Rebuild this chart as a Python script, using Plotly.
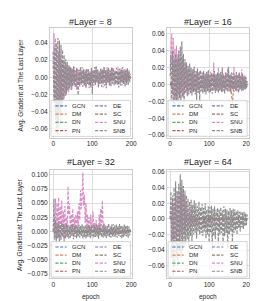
import plotly.graph_objects as go

W, H = 258, 301
NAMES = ["GCN", "DM", "DN", "PN", "DE", "SC", "SNU", "SNB"]
COLORS = ["#4c72b0", "#dd8452", "#55a868", "#c44e52", "#8172b3", "#937860", "#da8bc3", "#8c8c8c"]
LAYERS = [8, 16, 32, 64]
EPOCHS_FINE = list(range(0, 200, 2))
EPOCHS_DM = list(range(0, 200, 4))
EPOCHS_COARSE = [0, 22, 44, 66, 88, 110, 132, 154, 176, 198]
X_TICKS = [0, 100, 200]
Y_TICKS_L8 = [-0.06, -0.04, -0.02, 0.0, 0.02, 0.04]
Y_TICKS_L16 = [-0.06, -0.04, -0.02, 0.0, 0.02, 0.04, 0.06]
Y_TICKS_L32 = [-0.075, -0.05, -0.025, 0.0, 0.025, 0.05, 0.075, 0.1]
Y_TICKS_L64 = [-0.06, -0.04, -0.02, 0.0, 0.02, 0.04, 0.06]

# ---------------- #Layer = 8 ----------------
snu_l8 = [0.010, 0.052, -0.040, 0.046, -0.060, 0.035, -0.052, 0.030, -0.045, 0.026, -0.056, 0.020, -0.030, 0.018, -0.026, 0.015, -0.022, 0.014, -0.016, 0.012,
          -0.018, 0.013, -0.010, 0.011, -0.014, 0.009, -0.008, 0.012, -0.012, 0.008, -0.015, 0.010, -0.006, 0.009, -0.011, 0.007, -0.009, 0.012, -0.007, 0.006,
          -0.010, 0.009, -0.013, 0.008, -0.006, 0.010, -0.009, 0.007, -0.012, 0.011, -0.005, 0.008, -0.010, 0.006, -0.008, 0.012, -0.007, 0.009, -0.011, 0.005,
          -0.009, 0.010, -0.006, 0.008, -0.012, 0.011, -0.005, 0.007, -0.009, 0.012, -0.007, 0.006, -0.010, 0.009, -0.006, 0.010, -0.008, 0.011, -0.005, 0.007,
          -0.009, 0.008, -0.006, 0.012, -0.008, 0.007, -0.010, 0.011, -0.005, 0.009, -0.008, 0.010, -0.006, 0.008, -0.009, 0.011, -0.005, 0.007, -0.006, 0.004]
snb_l8 = [0.030, -0.030, 0.036, -0.050, 0.040, -0.066, 0.046, -0.060, 0.043, -0.042, 0.038, -0.036, 0.032, -0.026, 0.026, -0.022, 0.021, -0.020, 0.018, -0.016,
          0.014, -0.013, 0.012, -0.015, 0.010, -0.011, 0.013, -0.009, 0.008, -0.012, 0.011, -0.008, -0.021, 0.009, -0.010, 0.012, -0.007, 0.008, -0.011, 0.010,
          -0.009, 0.007, -0.012, 0.010, -0.008, 0.009, -0.013, 0.006, -0.010, 0.011, -0.020, 0.008, -0.007, 0.012, -0.009, 0.013, -0.006, 0.009, -0.012, 0.007,
          -0.008, 0.010, -0.011, 0.009, -0.007, 0.012, -0.010, 0.008, -0.013, 0.010, -0.006, 0.011, -0.009, 0.008, -0.011, 0.012, -0.007, 0.009, -0.010, 0.008,
          -0.008, 0.011, -0.009, 0.007, -0.012, 0.010, -0.006, 0.009, -0.010, 0.012, -0.008, 0.007, -0.011, 0.009, -0.007, 0.010, -0.009, 0.008, -0.005, 0.004]
dm_l8 = [0.002, -0.003, 0.003, -0.002, 0.002, -0.001, 0.001, -0.001, 0.001, 0.000,
         0.001, -0.001, 0.000, 0.001, -0.001, 0.000, 0.001, 0.000, -0.001, 0.000,
         0.001, 0.000, -0.001, 0.001, 0.000, 0.002, 0.000, -0.001, 0.001, 0.000,
         0.001, 0.000, 0.002, 0.011, 0.000, -0.001, 0.001, 0.000, 0.011, 0.000,
         0.001, -0.001, 0.000, 0.001, 0.000, -0.001, 0.001, 0.000, 0.000, 0.001]
gcn_l8 = [0.001, 0.000, -0.001, 0.000, 0.001, 0.000, -0.001, 0.000, 0.001, 0.000]
dn_l8 = [0.000, 0.001, 0.000, -0.001, 0.000, 0.001, 0.000, -0.001, 0.000, 0.000]
pn_l8 = [-0.001, 0.000, 0.001, 0.000, -0.001, 0.000, 0.001, 0.000, 0.000, 0.001]
de_l8 = [0.001, -0.001, 0.000, 0.001, 0.000, -0.001, 0.000, 0.001, 0.000, 0.000]
sc_l8 = [0.000, 0.000, 0.001, 0.000, -0.001, 0.000, 0.000, 0.001, -0.001, 0.000]

# ---------------- #Layer = 16 ----------------
snu_l16 = [0.020, 0.045, 0.060, -0.012, 0.055, -0.022, 0.042, -0.016, 0.046, -0.020, 0.036, -0.012, 0.031, -0.022, 0.026, -0.010, 0.030, -0.016, 0.021, -0.010,
           0.025, -0.008, 0.018, -0.012, 0.020, -0.006, 0.016, -0.010, 0.014, -0.008, 0.019, -0.007, 0.013, -0.011, 0.015, -0.006, 0.012, -0.009, 0.016, -0.005,
           0.011, -0.008, 0.014, -0.006, 0.010, -0.009, 0.013, -0.005, 0.012, -0.007, 0.009, -0.010, 0.015, -0.004, 0.011, -0.008, 0.026, -0.006, 0.010, -0.007,
           0.012, -0.005, 0.020, -0.008, 0.009, -0.006, 0.011, -0.009, 0.013, -0.004, 0.010, -0.007, 0.014, -0.006, 0.019, -0.005, 0.009, -0.008, 0.012, -0.004,
           0.010, -0.007, 0.021, -0.005, 0.011, -0.008, 0.009, -0.004, 0.013, -0.006, 0.010, -0.005, 0.018, -0.007, 0.009, -0.004, 0.011, -0.006, 0.008, -0.003]
snb_l16 = [0.010, 0.035, -0.020, 0.040, -0.022, 0.030, -0.026, 0.036, -0.020, 0.031, -0.021, 0.040, -0.016, 0.045, -0.020, 0.051, -0.015, 0.036, -0.021, 0.030,
           -0.011, 0.026, -0.014, 0.022, -0.012, 0.025, -0.010, 0.020, -0.013, 0.018, -0.009, 0.021, -0.012, 0.016, -0.018, 0.019, -0.010, 0.015, -0.020, 0.017,
           -0.008, 0.014, -0.011, 0.016, -0.009, 0.013, -0.012, 0.015, -0.008, 0.017, -0.010, 0.012, -0.009, 0.014, -0.011, 0.013, -0.007, 0.016, -0.010, 0.012,
           -0.008, 0.014, -0.010, 0.013, -0.007, 0.015, -0.009, 0.020, -0.008, 0.012, -0.011, 0.014, -0.007, 0.013, -0.009, 0.021, -0.008, 0.012, -0.010, 0.014,
           -0.006, 0.013, -0.009, 0.011, -0.007, 0.015, -0.008, 0.012, -0.010, 0.014, -0.006, 0.011, -0.008, 0.013, -0.007, 0.010, -0.006, 0.009, -0.005, 0.004]
dm_l16 = [0.002, 0.003, -0.002, 0.002, -0.001, 0.001, 0.000, 0.001, -0.001, 0.000,
          0.001, 0.000, -0.001, 0.001, 0.000, 0.001, 0.000, -0.001, 0.000, 0.001,
          0.000, 0.003, 0.000, -0.001, 0.001, 0.000, 0.001, 0.000, -0.001, 0.000,
          0.001, 0.000, 0.000, 0.001, 0.000, -0.001, 0.000, 0.001, 0.000, -0.004,
          -0.022, 0.000, 0.001, 0.000, -0.001, 0.000, 0.001, 0.000, 0.000, 0.001]
gcn_l16 = [0.001, 0.000, 0.000, -0.001, 0.000, 0.001, 0.000, 0.000, -0.001, 0.000]
dn_l16 = [0.000, -0.001, 0.000, 0.001, 0.000, 0.000, -0.001, 0.000, 0.001, 0.000]
pn_l16 = [0.001, 0.000, -0.001, 0.000, 0.000, 0.001, 0.000, -0.001, 0.000, 0.000]
de_l16 = [0.000, 0.001, 0.000, 0.000, -0.001, 0.000, 0.001, 0.000, 0.000, -0.001]
sc_l16 = [-0.001, 0.000, 0.001, 0.000, 0.000, -0.001, 0.000, 0.000, 0.001, 0.000]

# ---------------- #Layer = 32 ----------------
snu_l32 = [0.000, 0.020, -0.010, 0.058, -0.015, 0.050, -0.012, 0.060, -0.018, 0.045,
           0.008, 0.055, -0.010, 0.035, -0.015, 0.045, 0.004, 0.025, -0.010, 0.080,
           0.030, 0.050, -0.008, 0.030, 0.010, 0.040, -0.010, 0.025, 0.000, 0.030,
           -0.008, 0.035, 0.010, 0.050, 0.020, 0.073, 0.040, 0.060, 0.104, 0.045,
           0.065, 0.015, 0.050, -0.010, 0.030, 0.000, 0.025, -0.005, 0.030, 0.002,
           0.020, 0.035, 0.000, 0.015, -0.006, 0.020, 0.000, 0.012, -0.010, 0.030,
           0.005, 0.040, 0.010, 0.055, 0.005, 0.015, -0.004, 0.006, -0.003, 0.004,
           -0.002, 0.003, -0.004, 0.002, -0.003, 0.004, -0.002, 0.003, -0.003, 0.002,
           -0.004, 0.003, -0.002, 0.004, -0.003, 0.002, -0.002, 0.003, -0.004, 0.002,
           -0.003, 0.003, -0.002, 0.004, -0.003, 0.002, -0.002, 0.003, -0.002, 0.001]
snb_l32 = [0.000, 0.058, -0.015, 0.020, -0.022, 0.015, -0.012, 0.018, -0.020, 0.012, -0.015, 0.016, -0.010, 0.013, -0.018, 0.011, -0.012, 0.014, -0.009, 0.012,
           -0.013, 0.010, -0.011, 0.012, -0.008, 0.013, -0.014, 0.009, -0.010, 0.011, -0.012, 0.008, -0.009, 0.012, -0.011, 0.010, -0.008, 0.013, -0.012, 0.009,
           -0.010, 0.011, -0.013, 0.008, -0.009, 0.012, -0.010, 0.009, -0.012, 0.010, -0.008, 0.013, -0.011, 0.009, -0.010, 0.012, -0.009, 0.010, -0.013, 0.011,
           -0.008, 0.012, -0.010, 0.009, -0.011, 0.013, -0.009, 0.010, -0.012, 0.011, -0.008, 0.014, -0.010, 0.009, -0.011, 0.012, -0.009, 0.013, -0.010, 0.011,
           -0.009, 0.012, -0.011, 0.010, -0.008, 0.013, -0.010, 0.011, -0.012, 0.009, -0.010, 0.012, -0.008, 0.011, -0.009, 0.010, -0.011, 0.009, -0.007, 0.006]
dm_l32 = [0.001, 0.000, -0.001, 0.001, 0.000, 0.000, 0.001, 0.000, -0.001, 0.000,
          0.000, 0.001, 0.000, 0.000, -0.001, 0.000, 0.001, 0.000, 0.000, 0.001,
          0.000, -0.001, 0.000, 0.001, 0.000, 0.000, 0.001, 0.000, -0.001, 0.000,
          0.000, 0.001, 0.000, 0.000, 0.001, 0.000, -0.001, 0.000, 0.001, 0.000,
          0.000, 0.001, 0.000, -0.001, 0.000, 0.001, 0.000, 0.000, 0.001, 0.000]
gcn_l32 = [0.000, 0.001, 0.000, -0.001, 0.000, 0.000, 0.001, 0.000, -0.001, 0.000]
dn_l32 = [0.001, 0.000, 0.000, 0.001, -0.001, 0.000, 0.000, 0.001, 0.000, -0.001]
pn_l32 = [0.000, -0.001, 0.001, 0.000, 0.000, -0.001, 0.001, 0.000, 0.000, 0.001]
de_l32 = [-0.001, 0.000, 0.000, 0.001, 0.000, 0.000, -0.001, 0.000, 0.001, 0.000]
sc_l32 = [0.000, 0.000, -0.001, 0.000, 0.001, 0.000, 0.000, -0.001, 0.000, 0.001]

# ---------------- #Layer = 64 ----------------
snu_l64 = [0.000, 0.020, -0.030, 0.025, -0.035, 0.020, -0.030, 0.030, -0.025, 0.035, -0.020, 0.030, -0.026, 0.035, -0.020, 0.040, -0.016, 0.038, -0.020, 0.030,
           -0.015, 0.020, -0.012, 0.012, -0.010, 0.006, -0.012, 0.015, -0.010, 0.004, -0.009, 0.002, -0.008, 0.000, -0.007, -0.003, -0.008, -0.004, -0.007, -0.005,
           -0.006, -0.008, -0.005, -0.007, -0.006, -0.009, -0.005, -0.007, -0.006, -0.008, -0.005, -0.007, -0.006, -0.008, -0.006, -0.005, -0.007, -0.006, -0.009, -0.005,
           -0.006, -0.007, -0.005, -0.008, -0.006, -0.007, -0.005, -0.006, -0.008, -0.006, -0.007, -0.005, -0.006, -0.008, -0.006, -0.007, -0.005, -0.006, -0.007, -0.006,
           -0.008, -0.005, -0.006, -0.007, -0.006, -0.005, -0.007, -0.006, -0.008, -0.006, -0.005, -0.007, -0.006, -0.006, -0.007, -0.005, -0.006, -0.007, -0.006, -0.005]
snb_l64 = [0.000, 0.035, -0.050, 0.030, -0.072, 0.040, -0.062, 0.048, -0.050, 0.036, -0.060, 0.045, -0.042, 0.057, -0.050, 0.050, -0.040, 0.042, -0.036, 0.036,
           -0.032, 0.030, -0.026, 0.026, -0.036, 0.022, -0.022, 0.025, -0.030, 0.018, -0.020, 0.024, -0.018, 0.020, -0.025, 0.016, -0.016, 0.022, -0.020, 0.015,
           -0.018, 0.019, -0.022, 0.014, -0.016, 0.020, -0.025, 0.012, -0.020, 0.016, -0.030, 0.015, -0.018, 0.017, -0.040, 0.013, -0.022, 0.016, -0.026, 0.012,
           -0.015, 0.014, -0.032, 0.012, -0.020, 0.015, -0.018, 0.011, -0.035, 0.016, -0.022, 0.013, -0.018, 0.012, -0.038, 0.010, -0.020, 0.014, -0.016, 0.011,
           -0.030, 0.013, -0.018, 0.012, -0.015, 0.010, -0.020, 0.011, -0.012, 0.009, -0.016, 0.010, -0.011, 0.008, -0.013, 0.009, -0.010, 0.007, -0.008, 0.006]
dm_l64 = [0.001, 0.000, 0.001, 0.000, 0.001, 0.001, 0.000, 0.001, 0.000, 0.001,
          0.001, 0.000, 0.001, 0.001, 0.000, 0.001, 0.000, 0.001, 0.001, 0.000,
          0.001, 0.000, 0.001, 0.001, 0.000, 0.001, 0.001, 0.000, 0.001, 0.000,
          0.001, 0.001, 0.000, 0.001, 0.000, 0.001, 0.001, 0.000, 0.001, 0.001,
          0.000, 0.001, 0.000, 0.001, 0.001, 0.000, 0.001, 0.000, 0.001, 0.001]
gcn_l64 = [0.000, 0.001, 0.000, 0.000, -0.001, 0.000, 0.001, 0.000, 0.000, 0.000]
dn_l64 = [0.001, 0.000, -0.001, 0.000, 0.000, 0.001, 0.000, 0.000, -0.001, 0.000]
pn_l64 = [0.000, 0.000, 0.001, -0.001, 0.000, 0.000, 0.001, 0.000, 0.000, -0.001]
de_l64 = [0.000, -0.001, 0.000, 0.001, 0.000, 0.000, 0.000, -0.001, 0.001, 0.000]
sc_l64 = [0.001, 0.000, 0.000, 0.000, 0.001, -0.001, 0.000, 0.000, 0.001, 0.000]

PANELS = [
    dict(layer=8, yticks=Y_TICKS_L8, yfmt=".2f", yrange=[-0.071, 0.058],
         series=dict(GCN=gcn_l8, DM=dm_l8, DN=dn_l8, PN=pn_l8, DE=de_l8, SC=sc_l8, SNU=snu_l8, SNB=snb_l8)),
    dict(layer=16, yticks=Y_TICKS_L16, yfmt=".2f", yrange=[-0.063, 0.067],
         series=dict(GCN=gcn_l16, DM=dm_l16, DN=dn_l16, PN=pn_l16, DE=de_l16, SC=sc_l16, SNU=snu_l16, SNB=snb_l16)),
    dict(layer=32, yticks=Y_TICKS_L32, yfmt=".3f", yrange=[-0.083, 0.108],
         series=dict(GCN=gcn_l32, DM=dm_l32, DN=dn_l32, PN=pn_l32, DE=de_l32, SC=sc_l32, SNU=snu_l32, SNB=snb_l32)),
    dict(layer=64, yticks=Y_TICKS_L64, yfmt=".2f", yrange=[-0.076, 0.062],
         series=dict(GCN=gcn_l64, DM=dm_l64, DN=dn_l64, PN=pn_l64, DE=de_l64, SC=sc_l64, SNU=snu_l64, SNB=snb_l64)),
]

# pixel layout of each plotting area: (left, right, top, bottom)
BOXES = [(42.7, 126.5, 18, 129), (162, 245.5, 18, 129), (42.7, 126.5, 162, 271), (162, 245.5, 162, 271)]

FONT = "Liberation Sans, Arial, sans-serif"
TXT = "#262626"
DASH = "3.2px,1.5px"

fig = go.Figure()
layout = dict(width=W, height=H, margin=dict(l=0, r=0, t=0, b=0),
              paper_bgcolor="white", plot_bgcolor="white", showlegend=False,
              font=dict(family=FONT, color=TXT, size=6.5))
shapes, annots = [], []

DRAW_ORDER = ["GCN", "DN", "PN", "DE", "SC", "DM", "SNU", "SNB"]

for i, (p, box) in enumerate(zip(PANELS, BOXES)):
    k = "" if i == 0 else str(i + 1)
    xa, ya = "x" + k, "y" + k
    l, r, t, b = box
    for name in DRAW_ORDER:
        vals = p["series"][name]
        if name in ("SNU", "SNB"):
            xs = EPOCHS_FINE
        elif name == "DM":
            xs = EPOCHS_DM
        else:
            xs = EPOCHS_COARSE
        fig.add_trace(go.Scatter(x=xs, y=vals, mode="lines", name=name, xaxis=xa, yaxis=ya,
                                 line=dict(color=COLORS[NAMES.index(name)], width=1.15, dash=DASH),
                                 showlegend=False, hoverinfo="skip"))
    axcommon = dict(showgrid=True, gridcolor="#dedede", gridwidth=0.8, showline=True, mirror=True,
                    linecolor="#cccccc", linewidth=0.8, zeroline=False, ticks="",
                    tickfont=dict(size=6.5, color=TXT, family=FONT))
    layout["xaxis" + k] = dict(domain=[l / W, r / W], range=[-8.5, 202], tickvals=X_TICKS,
                               anchor=ya, **axcommon)
    layout["yaxis" + k] = dict(domain=[1 - b / H, 1 - t / H], range=p["yrange"], tickvals=p["yticks"],
                               tickformat=p["yfmt"], anchor=xa, **axcommon)
    # title
    ty = 12.5 if i < 2 else 154
    annots.append(dict(text="#Layer = %d" % p["layer"], xref=xa + " domain", x=0.5, yref="paper",
                       y=1 - ty / H, xanchor="center", yanchor="middle", showarrow=False,
                       font=dict(size=9, color=TXT, family=FONT)))
    # legend box
    shapes.append(dict(type="rect", xref=xa + " domain", yref=ya + " domain", x0=0.015, x1=0.98,
                       y0=0.012, y1=0.34, fillcolor="rgba(255,255,255,0.8)",
                       line=dict(color="#cccccc", width=0.8), layer="above"))
    rows_y = [0.29, 0.215, 0.14, 0.065]
    for j, name in enumerate(NAMES):
        col, row = divmod(j, 4)
        lx0, lx1, tx = [(0.067, 0.205, 0.25), (0.55, 0.69, 0.745)][col]
        yy = rows_y[row]
        shapes.append(dict(type="line", xref=xa + " domain", yref=ya + " domain", x0=lx0, x1=lx1,
                           y0=yy, y1=yy, line=dict(color=COLORS[j], width=1.15, dash=DASH), layer="above"))
        annots.append(dict(text=name, xref=xa + " domain", yref=ya + " domain", x=tx, y=yy,
                           xanchor="left", yanchor="middle", showarrow=False,
                           font=dict(size=6, color=TXT, family=FONT)))

# axis titles
for ypix in [(18 + 129) / 2 + 2, (162 + 271) / 2]:
    annots.append(dict(text="Avg. Gradient at The Last Layer", xref="paper", yref="paper",
                       x=13 / W, y=1 - ypix / H, textangle=-90, xanchor="center", yanchor="middle",
                       showarrow=False, font=dict(size=6.5, color=TXT, family=FONT)))
for (l, r, t, b) in BOXES[2:]:
    annots.append(dict(text="epoch", xref="paper", yref="paper", x=(l + r) / 2 / W, y=1 - 290 / H,
                       xanchor="center", yanchor="middle", showarrow=False,
                       font=dict(size=6.5, color=TXT, family=FONT)))

layout["shapes"] = shapes
layout["annotations"] = annots
fig.update_layout(**layout)
fig.write_html("out.html")
